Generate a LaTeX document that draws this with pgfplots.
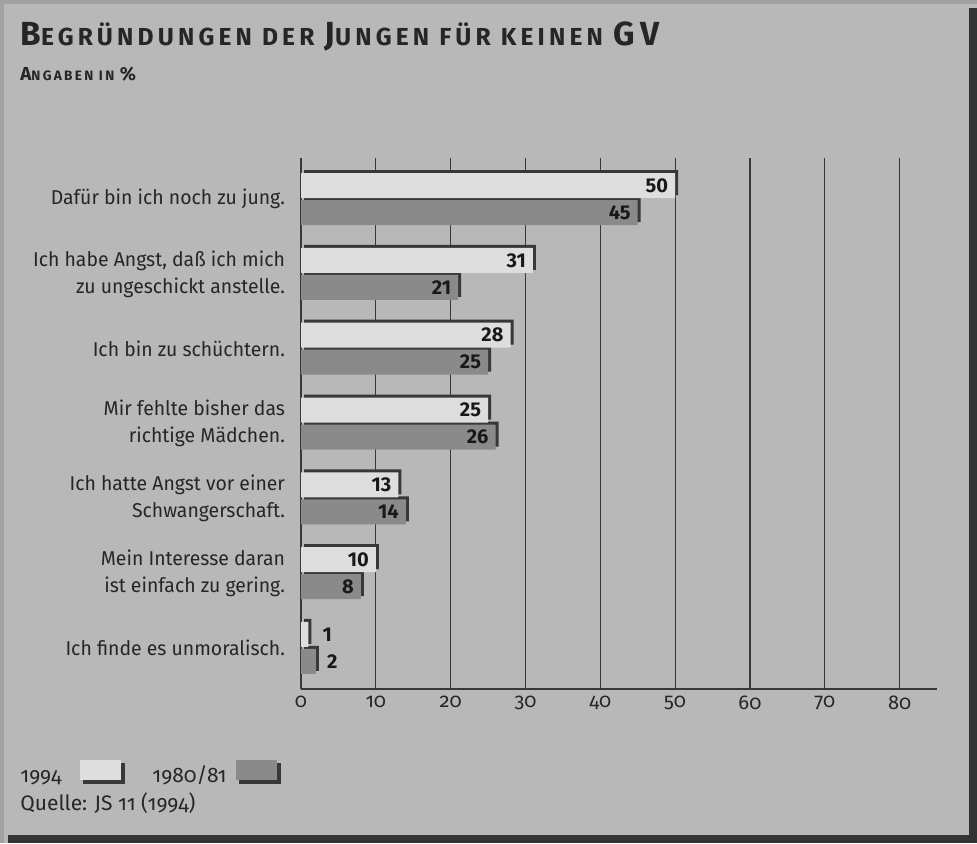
\documentclass[border=0pt]{standalone}
\usepackage{pgfplots}
\pgfplotsset{compat=1.18}
\usepackage{pgfplotstable}
\usepackage{fontspec}
\setmainfont{Fira Sans}[Numbers=OldStyle]
\newfontfamily\lining{Fira Sans}[Numbers=Lining]
\newfontfamily\titlefont{Fira Sans}[LetterSpace=17]
\newfontfamily\catfont{Fira Sans}[FakeStretch=0.97]
\definecolor{bg}{gray}{0.72}
\definecolor{lightbar}{gray}{0.87}
\definecolor{darkbar}{gray}{0.54}
\definecolor{edge}{gray}{0.22}

\pgfplotstableread{
y v94 v80
0 50 45
1 31 21
2 28 25
3 25 26
4 13 14
5 10 8
6 1 2
}\data

\pgfplotsset{
  vlabel/.style={draw=none, mark=none, forget plot, nodes near coords, point meta=x,
    every node near coord/.append style={font=\lining\bfseries\fontsize{10}{12}\selectfont, text=black!90}},
}

\begin{document}
\begin{tikzpicture}
\begin{scope}[x=0.5pt,y=-0.5pt]
\fill[bg] (0,0) rectangle (977,843);
\fill[gray!40!bg] (0,0) rectangle (977,4);
\fill[gray!40!bg] (0,0) rectangle (4,843);
\fill[black!80] (8,835) rectangle (977,843);
\fill[black!80] (969,8) rectangle (977,843);
% title
\node[anchor=base west, inner sep=0pt, text=black!85] at (20,45)
  {\titlefont\bfseries\fontsize{16.7}{18}\selectfont B\fontsize{12.3}{14}\selectfont EGRÜNDUNGEN DER \fontsize{16.7}{18}\selectfont J\fontsize{12.3}{14}\selectfont UNGEN FÜR KEINEN \fontsize{16.7}{18}\selectfont GV};
\node[anchor=base west, inner sep=0pt, text=black!85] at (20,80)
  {\titlefont\bfseries\fontsize{9.4}{11}\selectfont A\fontsize{6.8}{8}\selectfont NGABEN IN \fontsize{9.4}{11}\selectfont\%};
% legend
\node[anchor=base west, inner sep=0pt, font=\fontsize{10.5}{12}\selectfont, text=black!85] at (20,782) {1994};
\fill[edge] (83,763) rectangle (125,784);
\fill[lightbar] (80,760) rectangle (121,780);
\node[anchor=base west, inner sep=0pt, font=\fontsize{10.5}{12}\selectfont, text=black!85] at (152,782) {1980/81};
\fill[edge] (239,763) rectangle (281,784);
\fill[darkbar] (236,760) rectangle (277,780);
\node[anchor=base west, inner sep=0pt, font=\fontsize{10.5}{12}\selectfont, text=black!85] at (20,810) {Quelle: JS 11 (1994)};
\end{scope}
\begin{axis}[
  at={(150.5pt,-344.5pt)}, anchor=south west,
  scale only axis, width=318pt, height=265.5pt,
  xmin=0, xmax=85, ymin=-0.55, ymax=6.55, y dir=reverse,
  axis x line*=bottom, axis y line*=left,
  axis line style={-, edge, line width=0.6pt},
  xtick={0,10,...,80}, xmajorgrids,
  major grid style={edge, line width=0.6pt},
  ytick={0,...,6},
  yticklabels={{Dafür bin ich noch zu jung.},{Ich habe Angst, daß ich mich\\zu ungeschickt anstelle.},{Ich bin zu schüchtern.},{Mir fehlte bisher das\\richtige Mädchen.},{Ich hatte Angst vor einer\\Schwangerschaft.},{Mein Interesse daran\\ist einfach zu gering.},{Ich finde es unmoralisch.}},
  yticklabel style={align=right, font=\catfont\fontsize{10}{13.5}\selectfont, text=black!85, xshift=-4.5pt},
  xticklabel style={font=\fontsize{10}{12}\selectfont, text=black!85},
  /pgf/number format/assume math mode=true,
  major tick length=0pt,
  tick style={draw=none},
  bar width=12.5pt,
  clip=false,
]
\addplot[xbar, bar shift=6.75pt, fill=edge, draw=none, xshift=1.5pt, yshift=1.5pt, forget plot] table[x=v94,y=y]{\data};
\addplot[xbar, bar shift=-6.75pt, fill=edge, draw=none, xshift=1.5pt, yshift=1.5pt, forget plot] table[x=v80,y=y]{\data};
\addplot[xbar, bar shift=6.75pt, fill=lightbar, draw=none] table[x=v94,y=y]{\data};
\addplot[xbar, bar shift=-6.75pt, fill=darkbar, draw=none] table[x=v80,y=y]{\data};
% value labels
\addplot[vlabel, skip coords between index={6}{7},
  every node near coord/.append style={anchor=east, yshift=6.75pt}] table[x=v94,y=y]{\data};
\addplot[vlabel, skip coords between index={6}{7},
  every node near coord/.append style={anchor=east, yshift=-6.75pt}] table[x=v80,y=y]{\data};
\addplot[vlabel, skip coords between index={0}{6},
  every node near coord/.append style={anchor=west, xshift=3.5pt, yshift=6.75pt}] table[x=v94,y=y]{\data};
\addplot[vlabel, skip coords between index={0}{6},
  every node near coord/.append style={anchor=west, xshift=2pt, yshift=-6.75pt}] table[x=v80,y=y]{\data};
\end{axis}
\end{tikzpicture}
\end{document}
